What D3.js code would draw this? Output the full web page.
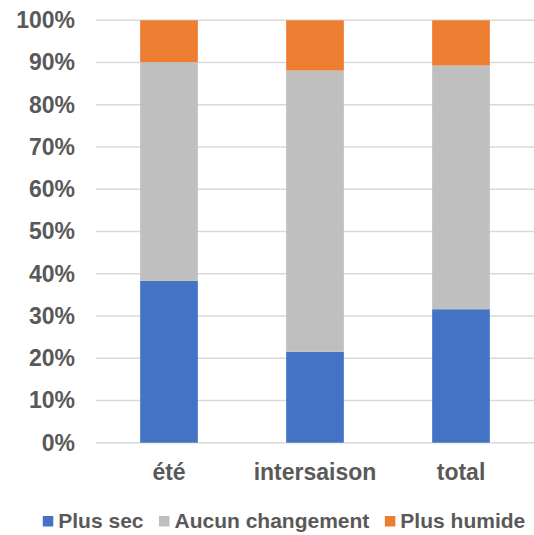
<!DOCTYPE html>
<html>
<head>
<meta charset="utf-8">
<script src="https://cdn.jsdelivr.net/npm/d3@7"></script>
<style>
  html, body { margin: 0; padding: 0; background: #fff; }
  svg { display: block; font-family: "Liberation Sans", Arial, sans-serif; }
</style>
</head>
<body>
<svg id="chart" width="534" height="535"></svg>
<script>
const categories = ["été", "intersaison", "total"];
const seriesNames = ["Plus sec", "Aucun changement", "Plus humide"];
const plusSec = [0.383, 0.215, 0.316];
const aucunChangement = [0.518, 0.666, 0.577];
const plusHumide = [0.099, 0.119, 0.107];
const yTicks = [0, 0.1, 0.2, 0.3, 0.4, 0.5, 0.6, 0.7, 0.8, 0.9, 1.0];
const colors = ["#4472C4", "#BFBFBF", "#ED7D31"];

const rows = categories.map((c, i) => ({
  cat: c,
  "Plus sec": plusSec[i],
  "Aucun changement": aucunChangement[i],
  "Plus humide": plusHumide[i]
}));

const W = 534, H = 535;
const m = { left: 96, right: 0, top: 20.3, bottom: 92.3 };
const svg = d3.select("#chart");

const x = d3.scaleBand().domain(categories)
  .range([m.left, W - m.right]).paddingInner(0.605).paddingOuter(0.3025);
const y = d3.scaleLinear().domain([0, 1]).range([H - m.bottom, m.top]);
const color = d3.scaleOrdinal().domain(seriesNames).range(colors);

// gridlines
svg.append("g").selectAll("line").data(yTicks).join("line")
  .attr("x1", m.left).attr("x2", W - m.right)
  .attr("y1", d => y(d)).attr("y2", d => y(d))
  .attr("stroke", "#D9D9D9").attr("stroke-width", 1.5);

// y axis labels
const yAxis = d3.axisLeft(y).tickValues(yTicks).tickSize(0).tickPadding(21)
  .tickFormat(d3.format(".0%"));
const gy = svg.append("g").attr("transform", `translate(${m.left},0)`).call(yAxis);
gy.select(".domain").remove();
gy.selectAll("text")
  .attr("fill", "#595959").attr("font-size", 23).attr("font-weight", "bold")
  .attr("font-family", "Liberation Sans, Arial, sans-serif");

// bars
const stacked = d3.stack().keys(seriesNames)(rows);
svg.append("g").selectAll("g").data(stacked).join("g")
  .attr("fill", d => color(d.key))
  .selectAll("rect").data(d => d).join("rect")
  .attr("x", d => x(d.data.cat))
  .attr("width", x.bandwidth())
  .attr("y", d => y(d[1]))
  .attr("height", d => y(d[0]) - y(d[1]));

// x axis labels
const xAxis = d3.axisBottom(x).tickSize(0).tickPadding(21);
const gx = svg.append("g").attr("transform", `translate(0,${y(0)})`).call(xAxis);
gx.select(".domain").remove();
gx.selectAll("text")
  .attr("fill", "#595959").attr("font-size", 23).attr("font-weight", "bold")
  .attr("font-family", "Liberation Sans, Arial, sans-serif");

// legend
const legend = svg.append("g");
const sq = 10.5, gapText = 5, gapItem = 15.5, baseline = 528;
let cx = 0;
const items = seriesNames.map(name => {
  const g = legend.append("g");
  g.append("rect").attr("x", cx).attr("y", baseline - 12).attr("width", sq).attr("height", sq)
    .attr("fill", color(name));
  const t = g.append("text").attr("x", cx + sq + gapText).attr("y", baseline)
    .attr("fill", "#595959").attr("font-size", 21).attr("font-weight", "bold")
    .text(name);
  const w = t.node().getComputedTextLength();
  cx += sq + gapText + w + gapItem;
  return g;
});
const totalW = cx - gapItem;
legend.attr("transform", `translate(${284 - totalW / 2},0)`);
</script>
</body>
</html>
